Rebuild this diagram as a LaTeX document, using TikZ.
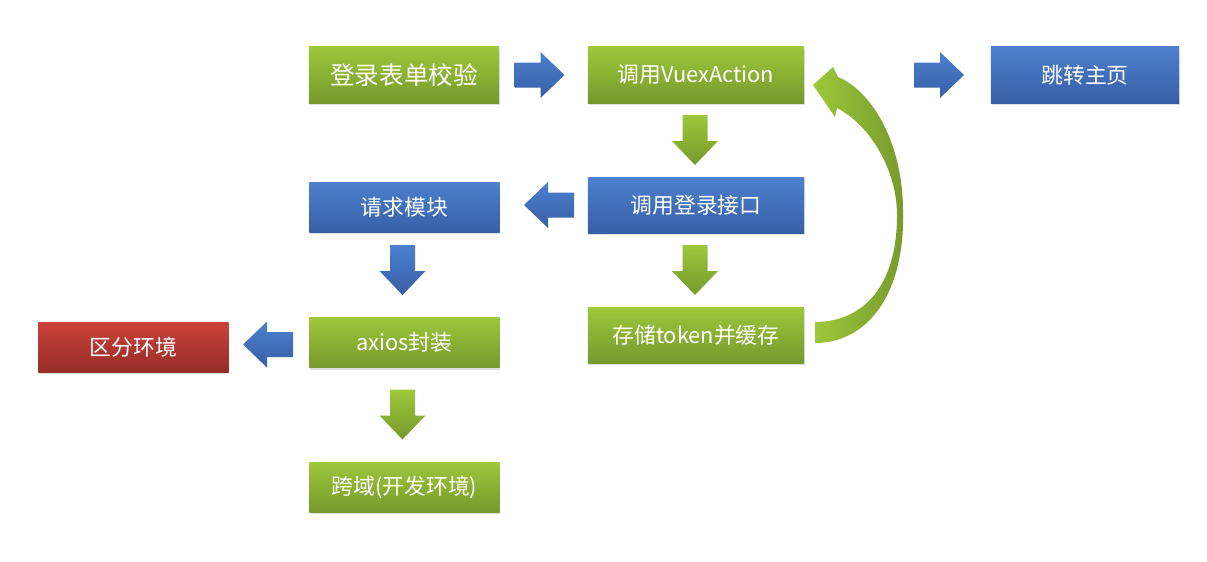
\documentclass[tikz,border=0pt]{standalone}
\usepackage{fontspec}
\usepackage{xcolor}
\newfontfamily\cjk{Noto Sans CJK SC}
\usetikzlibrary{shadows}
\definecolor{gtop}{RGB}{158,199,58}
\definecolor{gbot}{RGB}{119,153,45}
\definecolor{btop}{RGB}{76,128,206}
\definecolor{bbot}{RGB}{56,95,166}
\definecolor{rtop}{RGB}{203,66,58}
\definecolor{rbot}{RGB}{150,45,41}
\tikzset{
  box/.style={minimum width=4.75cm, minimum height=1.25cm, inner sep=0pt, text=white,
    font=\cjk\fontsize{15.5}{18}\selectfont,
    drop shadow={opacity=0.25, shadow xshift=0.4pt, shadow yshift=-1.6pt}},
  wide/.style={minimum width=5.4cm, minimum height=1.4cm},
  gbox/.style={box, top color=gtop, bottom color=gbot},
  bbox/.style={box, top color=btop, bottom color=bbot},
  rbox/.style={box, top color=rtop, bottom color=rbot},
  blockarr/.pic={
    \shade[top color=#1top, bottom color=#1bot]
      (-25,-12.5) -- (1,-12.5) -- (1,-23) -- (25,0) -- (1,23) -- (1,12.5) -- (-25,12.5) -- cycle;
  }
}

\begin{document}
\begin{tikzpicture}[x=0.025cm, y=-0.025cm]

  \useasboundingbox (0,0) rectangle (1207,561);

  % top row
  \node[gbox, minimum height=1.4cm, font=\cjk\fontsize{17.5}{20}\selectfont] (form) at (404,75) {登录表单校验};
  \node[gbox, wide] (vuex) at (696,75) {调用VuexAction};
  \node[bbox, minimum width=4.7cm, minimum height=1.4cm] (home) at (1085,75) {跳转主页};

  % middle column
  \node[bbox, wide] (api) at (696,205) {调用登录接口};
  \node[gbox, wide] (store) at (696,335) {存储token并缓存};

  % left column
  \node[bbox] (req) at (404.5,207) {请求模块};
  \node[gbox] (axios) at (404.5,342.5) {axios封装};
  \node[rbox] (env) at (133.5,347) {区分环境};
  \node[gbox] (cors) at (404.5,487) {跨域(开发环境)};

  % block arrows
  \pic at (539.5,75) {blockarr=b};
  \pic at (939,75) {blockarr=b};
  \pic[rotate=-90] at (695,140) {blockarr=g};
  \pic[rotate=180] at (549,205) {blockarr=b};
  \pic[rotate=-90] at (695,270) {blockarr=g};
  \pic[rotate=-90] at (402.5,270) {blockarr=b};
  \pic[rotate=180] at (268,344.5) {blockarr=b};
  \pic[rotate=-90] at (402.5,414.5) {blockarr=g};

  % curved arrow back to vuex
  \shade[left color=gtop, right color=gbot]
    (815,322) .. controls (860,322) and (897,290) .. (897,215)
    .. controls (897,170) and (870,125) .. (837,108)
    -- (835,117) -- (813,85) -- (833,67) -- (838,77)
    .. controls (870,90) and (903,140) .. (903,212)
    .. controls (905,290) and (870,343) .. (815,343) -- cycle;

\end{tikzpicture}
\end{document}
